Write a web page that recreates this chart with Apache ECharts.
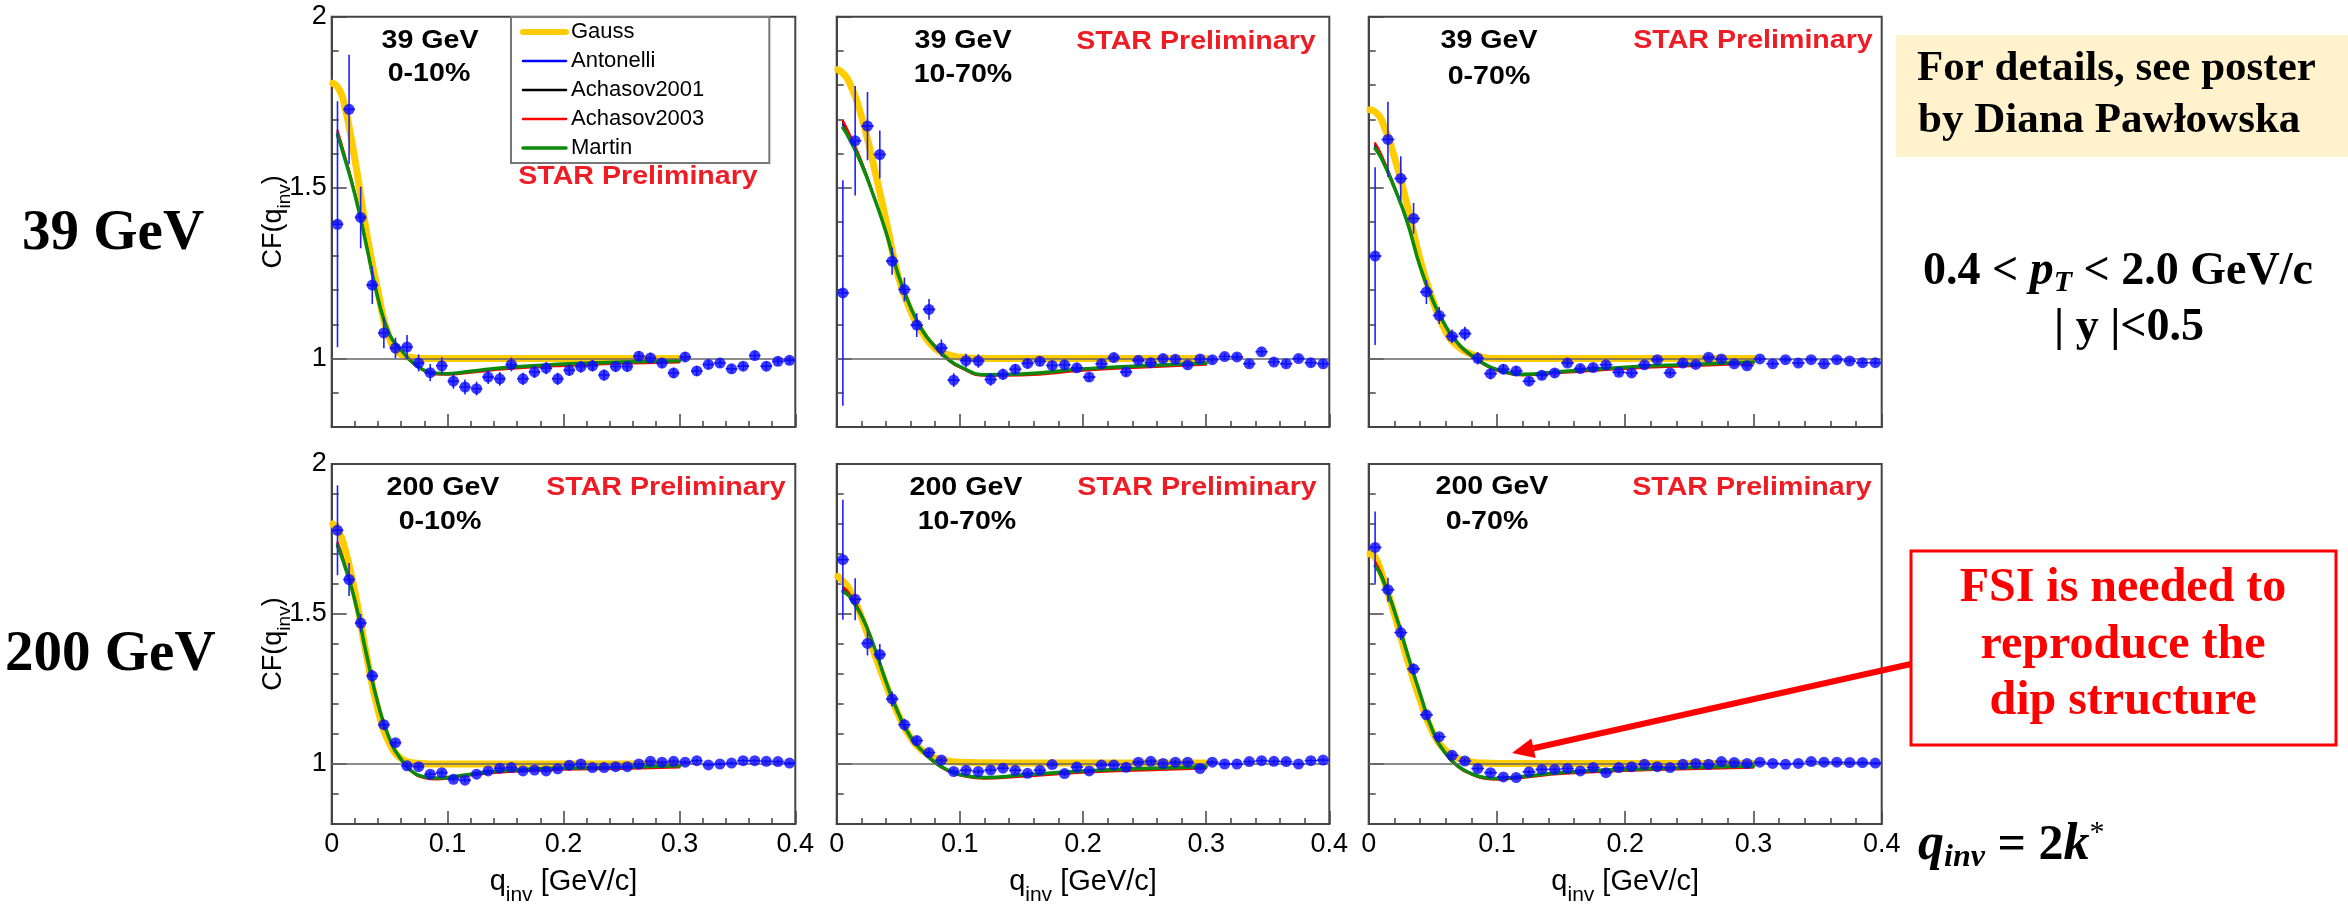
<!DOCTYPE html>
<html><head><meta charset="utf-8">
<script src="https://cdn.jsdelivr.net/npm/echarts@6/dist/echarts.min.js"></script>
<style>html,body{margin:0;padding:0;background:#fff}#c{width:2348px;height:907px}</style>
</head><body><div id="c"></div>
<script>
// ---------------- data ----------------
const qBins = [0.005,0.015,0.025,0.035,0.045,0.055,0.065,0.075,0.085,0.095,0.105,0.115,0.125,0.135,0.145,0.155,0.165,0.175,0.185,0.195,0.205,0.215,0.225,0.235,0.245,0.255,0.265,0.275,0.285,0.295,0.305,0.315,0.325,0.335,0.345,0.355,0.365,0.375,0.385,0.395];
const qFit   = [0.005,0.01,0.02,0.03,0.04,0.05,0.06,0.07,0.08,0.09,0.1,0.12,0.15,0.2,0.25,0.3];
const qGauss = [0.001,0.005,0.01,0.02,0.03,0.04,0.05,0.06,0.07,0.08,0.09,0.1,0.12,0.15,0.2,0.25,0.3];
const yMajorTicks = [1, 1.5, 2];
const seriesNames = ['Gauss','Antonelli','Achasov2001','Achasov2003','Martin'];
const energyLabels = ['39 GeV','200 GeV'];
const centralityLabels = ['0-10%','10-70%','0-70%'];

// 39 GeV, 0-10%
const cf39_0_10  = [1.393,1.729,1.413,1.215,1.075,1.031,1.034,0.987,0.959,0.979,0.934,0.917,0.912,0.946,0.941,0.983,0.941,0.961,0.972,0.941,0.966,0.976,0.979,0.952,0.977,0.977,1.007,1.002,0.987,0.958,1.005,0.964,0.983,0.987,0.970,0.978,1.009,0.978,0.992,0.995];
const err39_0_10 = [0.36,0.16,0.09,0.055,0.045,0.03,0.035,0.025,0.025,0.025,0.022,0.022,0.02,0.02,0.02,0.02,0.018,0.018,0.018,0.018,0.017,0.017,0.017,0.016,0.016,0.016,0.015,0.015,0.015,0.015,0.014,0.014,0.014,0.014,0.013,0.013,0.013,0.013,0.012,0.012];
const gauss39_0_10     = [1.805,1.795,1.757,1.583,1.37,1.195,1.058,1.012,1.003,1.0,1.0,1.0,1.0,1.0,1.0,1.0,1.0];
const antonelli39_0_10 = [1.658,1.603,1.481,1.331,1.175,1.07,1.025,0.988,0.966,0.957,0.956,0.963,0.974,0.984,0.99,0.994];
const achasov01_39_0_10= [1.662,1.606,1.483,1.332,1.176,1.07,1.025,0.987,0.965,0.956,0.955,0.962,0.973,0.983,0.989,0.993];
const achasov03_39_0_10= [1.668,1.61,1.485,1.333,1.176,1.07,1.024,0.986,0.963,0.954,0.953,0.959,0.969,0.979,0.985,0.989];
const martin39_0_10    = [1.654,1.60,1.48,1.33,1.175,1.07,1.025,0.988,0.966,0.957,0.956,0.963,0.974,0.984,0.99,0.994];

// 39 GeV, 10-70%
const cf39_10_70  = [1.192,1.637,1.680,1.597,1.285,1.202,1.098,1.144,1.031,0.937,0.994,0.993,0.939,0.954,0.969,0.986,0.992,0.980,0.982,0.973,0.946,0.985,1.003,0.961,0.995,0.988,1.000,0.998,0.982,0.999,0.997,1.006,1.005,0.985,1.020,0.990,0.985,1.000,0.988,0.985];
const err39_10_70 = [0.33,0.16,0.10,0.07,0.04,0.035,0.035,0.03,0.025,0.02,0.02,0.02,0.018,0.016,0.015,0.015,0.014,0.014,0.013,0.013,0.012,0.012,0.012,0.012,0.011,0.011,0.011,0.011,0.011,0.01,0.01,0.01,0.01,0.01,0.01,0.01,0.01,0.01,0.01,0.01];
const gauss39_10_70     = [1.845,1.835,1.81,1.71,1.565,1.405,1.24,1.14,1.073,1.029,1.012,1.004,1.0,1.0,1.0,1.0,1.0];
const antonelli39_10_70 = [1.685,1.652,1.574,1.476,1.37,1.245,1.15,1.08,1.035,1.0,0.977,0.953,0.955,0.97,0.979,0.987];
const achasov01_39_10_70= [1.692,1.657,1.577,1.477,1.37,1.244,1.149,1.079,1.034,0.999,0.976,0.952,0.954,0.969,0.978,0.986];
const achasov03_39_10_70= [1.696,1.66,1.578,1.478,1.37,1.243,1.148,1.078,1.032,0.997,0.974,0.95,0.951,0.965,0.974,0.982];
const martin39_10_70    = [1.675,1.645,1.57,1.475,1.37,1.245,1.15,1.08,1.035,1.0,0.977,0.953,0.955,0.97,0.979,0.987];

// 39 GeV, 0-70%
const cf39_0_70  = [1.300,1.641,1.527,1.410,1.195,1.126,1.065,1.073,1.001,0.956,0.969,0.964,0.934,0.951,0.958,0.987,0.971,0.974,0.982,0.960,0.958,0.982,0.997,0.958,0.987,0.983,1.004,0.999,0.985,0.979,0.999,0.985,0.997,0.987,0.997,0.985,0.997,0.993,0.988,0.988];
const err39_0_70 = [0.26,0.11,0.065,0.045,0.035,0.025,0.02,0.02,0.018,0.016,0.015,0.014,0.013,0.012,0.012,0.011,0.011,0.01,0.01,0.01,0.01,0.01,0.009,0.009,0.009,0.009,0.009,0.009,0.009,0.009,0.008,0.008,0.008,0.008,0.008,0.008,0.008,0.008,0.008,0.008];
const gauss39_0_70     = [1.728,1.722,1.698,1.59,1.45,1.29,1.17,1.08,1.034,1.013,1.003,1.0,1.0,1.0,1.0,1.0,1.0];
const antonelli39_0_70 = [1.62,1.588,1.501,1.4,1.27,1.17,1.095,1.043,1.01,0.985,0.968,0.954,0.962,0.975,0.983,0.99];
const achasov01_39_0_70= [1.625,1.592,1.503,1.401,1.271,1.17,1.094,1.042,1.009,0.984,0.967,0.953,0.961,0.974,0.982,0.989];
const achasov03_39_0_70= [1.63,1.596,1.505,1.402,1.271,1.169,1.093,1.04,1.007,0.982,0.965,0.951,0.958,0.97,0.978,0.985];
const martin39_0_70    = [1.615,1.585,1.5,1.4,1.27,1.17,1.095,1.043,1.01,0.985,0.968,0.954,0.962,0.975,0.983,0.99];

// 200 GeV, 0-10%
const cf200_0_10  = [1.779,1.615,1.470,1.294,1.131,1.071,0.994,0.991,0.966,0.971,0.949,0.946,0.966,0.977,0.986,0.988,0.977,0.980,0.977,0.984,0.996,1.000,0.988,0.988,0.991,0.991,1.000,1.009,1.006,1.009,1.006,1.011,0.997,1.000,1.003,1.011,1.011,1.009,1.008,1.003];
const err200_0_10 = [0.15,0.055,0.03,0.02,0.015,0.012,0.01,0.01,0.009,0.009,0.008,0.008,0.008,0.008,0.008,0.007,0.007,0.007,0.007,0.007,0.007,0.007,0.007,0.007,0.006,0.006,0.006,0.006,0.006,0.006,0.006,0.006,0.006,0.006,0.006,0.006,0.006,0.006,0.006,0.006];
const gauss200_0_10     = [1.80,1.78,1.738,1.573,1.363,1.18,1.068,1.018,1.004,1.001,1.0,1.0,1.0,1.0,1.0,1.0,1.0];
const antonelli200_0_10 = [1.732,1.678,1.546,1.365,1.2,1.083,1.015,0.974,0.957,0.953,0.955,0.966,0.978,0.986,0.989,0.994];
const achasov01_200_0_10= [1.735,1.68,1.547,1.366,1.2,1.083,1.014,0.973,0.956,0.952,0.954,0.965,0.977,0.985,0.988,0.993];
const achasov03_200_0_10= [1.74,1.683,1.548,1.366,1.2,1.082,1.013,0.971,0.953,0.949,0.951,0.962,0.973,0.981,0.984,0.989];
const martin200_0_10    = [1.727,1.675,1.545,1.365,1.2,1.083,1.015,0.974,0.957,0.953,0.955,0.966,0.978,0.986,0.989,0.994];

// 200 GeV, 10-70%
const cf200_10_70  = [1.681,1.549,1.402,1.365,1.217,1.131,1.078,1.038,1.013,0.975,0.979,0.975,0.980,0.986,0.979,0.969,0.979,0.998,0.968,0.990,0.977,0.997,0.997,0.989,1.006,1.009,1.002,1.006,1.006,0.985,1.006,1.000,1.000,1.008,1.011,1.009,1.008,1.000,1.011,1.013];
const err200_10_70 = [0.2,0.07,0.04,0.035,0.025,0.02,0.015,0.012,0.01,0.01,0.009,0.009,0.009,0.008,0.008,0.008,0.008,0.008,0.008,0.008,0.007,0.007,0.007,0.007,0.007,0.007,0.007,0.007,0.007,0.007,0.007,0.007,0.007,0.007,0.007,0.007,0.007,0.007,0.007,0.007];
const gauss200_10_70     = [1.625,1.61,1.585,1.49,1.375,1.265,1.165,1.088,1.043,1.02,1.01,1.006,1.004,1.003,1.003,1.003,1.003];
const antonelli200_10_70 = [1.58,1.563,1.497,1.395,1.275,1.17,1.09,1.042,1.005,0.98,0.965,0.955,0.963,0.977,0.985,0.991];
const achasov01_200_10_70= [1.585,1.566,1.498,1.396,1.276,1.17,1.09,1.041,1.004,0.979,0.964,0.954,0.962,0.976,0.984,0.99];
const achasov03_200_10_70= [1.59,1.57,1.5,1.397,1.276,1.17,1.089,1.04,1.002,0.977,0.962,0.951,0.958,0.971,0.979,0.985];
const martin200_10_70    = [1.575,1.56,1.495,1.395,1.275,1.17,1.09,1.042,1.005,0.98,0.965,0.955,0.963,0.977,0.985,0.991];

// 200 GeV, 0-70%
const cf200_0_70  = [1.722,1.581,1.438,1.317,1.164,1.091,1.029,1.010,0.985,0.971,0.957,0.955,0.974,0.982,0.982,0.985,0.977,0.988,0.971,0.988,0.991,0.999,0.991,0.988,0.999,1.002,0.999,1.008,1.005,1.002,1.006,1.002,0.999,1.002,1.008,1.006,1.006,1.005,1.005,1.003];
const err200_0_70 = [0.12,0.04,0.025,0.018,0.014,0.011,0.01,0.009,0.008,0.008,0.007,0.007,0.007,0.007,0.007,0.006,0.006,0.006,0.006,0.006,0.006,0.006,0.006,0.006,0.006,0.006,0.006,0.006,0.006,0.006,0.005,0.005,0.005,0.005,0.005,0.005,0.005,0.005,0.005,0.005];
const gauss200_0_70     = [1.70,1.69,1.636,1.50,1.35,1.215,1.105,1.045,1.018,1.007,1.003,1.002,1.002,1.002,1.002,1.002,1.002];
const antonelli200_0_70 = [1.665,1.628,1.511,1.37,1.235,1.11,1.035,0.992,0.968,0.955,0.952,0.958,0.972,0.982,0.988,0.993];
const achasov01_200_0_70= [1.67,1.63,1.512,1.371,1.235,1.11,1.034,0.991,0.967,0.954,0.951,0.957,0.971,0.981,0.987,0.992];
const achasov03_200_0_70= [1.675,1.633,1.513,1.371,1.235,1.109,1.033,0.989,0.965,0.951,0.948,0.954,0.967,0.977,0.983,0.988];
const martin200_0_70    = [1.66,1.625,1.51,1.37,1.235,1.11,1.035,0.992,0.968,0.955,0.952,0.958,0.972,0.982,0.988,0.993];

// ---------------- assembly ----------------
const panels = [
  {cf: cf39_0_10,  err: err39_0_10,  fits: [gauss39_0_10, antonelli39_0_10, achasov01_39_0_10, achasov03_39_0_10, martin39_0_10]},
  {cf: cf39_10_70, err: err39_10_70, fits: [gauss39_10_70, antonelli39_10_70, achasov01_39_10_70, achasov03_39_10_70, martin39_10_70]},
  {cf: cf39_0_70,  err: err39_0_70,  fits: [gauss39_0_70, antonelli39_0_70, achasov01_39_0_70, achasov03_39_0_70, martin39_0_70]},
  {cf: cf200_0_10, err: err200_0_10, fits: [gauss200_0_10, antonelli200_0_10, achasov01_200_0_10, achasov03_200_0_10, martin200_0_10]},
  {cf: cf200_10_70,err: err200_10_70,fits: [gauss200_10_70, antonelli200_10_70, achasov01_200_10_70, achasov03_200_10_70, martin200_10_70]},
  {cf: cf200_0_70, err: err200_0_70, fits: [gauss200_0_70, antonelli200_0_70, achasov01_200_0_70, achasov03_200_0_70, martin200_0_70]}
];

const colLeft = [331.7, 836.7, 1368.7], colWidth = [463.6, 492.6, 513];
const rowTop = [16.7, 464], rowHeight = [410.3, 363];
const SANS = 'Liberation Sans, Arial, sans-serif';
const SERIF = 'Liberation Serif, Times New Roman, serif';
const frameColor = '#444';
const fitStyles = [
  {color:'#ffcc00', width:7, z:2, legendWidth:6},
  {color:'#0000ff', width:2, z:3, legendWidth:2.5},
  {color:'#000000', width:2, z:3, legendWidth:2.5},
  {color:'#ff0000', width:2.2, z:3, legendWidth:2.5},
  {color:'#0b8a0b', width:3.5, z:4, legendWidth:3.5}
];

const grids = [], xAxes = [], yAxes = [], series = [];
const axisRich = {
  m: {fontSize: 29, fontFamily: SANS, color: '#000', lineHeight: 48, verticalAlign: 'middle'},
  s: {fontSize: 21, fontFamily: SANS, color: '#000', lineHeight: 12, verticalAlign: 'bottom'}
};

panels.forEach((p, i) => {
  const r = Math.floor(i / 3), c = i % 3;
  grids.push({left: colLeft[c], top: rowTop[r], width: colWidth[c], height: rowHeight[r],
    show: true, borderColor: frameColor, borderWidth: 2, backgroundColor: 'transparent', containLabel: false});
  xAxes.push({
    gridIndex: i, type: 'value', min: 0, max: 0.4, interval: 0.1,
    axisLine: {show: true, onZero: false, lineStyle: {color: frameColor, width: 2}},
    axisTick: {show: true, inside: true, length: 13, lineStyle: {color: frameColor, width: 1.5}},
    minorTick: {show: true, splitNumber: 5, length: 6, lineStyle: {color: frameColor, width: 1.5}},
    axisLabel: {show: r === 1, fontSize: 27, fontFamily: SANS, color: '#000', margin: 7, showMinLabel: true, showMaxLabel: true},
    splitLine: {show: false}, minorSplitLine: {show: false},
    name: r === 1 ? '{m|q}{s|inv}{m| [GeV/c]}' : '', nameLocation: 'middle', nameGap: 34, nameMoveOverlap: false,
    nameTextStyle: {rich: axisRich}
  });
  yAxes.push({
    gridIndex: i, type: 'value', min: 0.8, max: 2.0, interval: 0.1, position: 'left',
    axisLine: {show: true, onZero: false, lineStyle: {color: frameColor, width: 2}},
    axisTick: {show: true, inside: true, length: 7, lineStyle: {color: frameColor, width: 1.5}},
    axisLabel: {show: false}, splitLine: {show: false}
  });
  yAxes.push({
    gridIndex: i, type: 'value', min: 0.8, max: 2.0, position: 'left', offset: 0,
    axisLine: {show: false},
    axisTick: {show: true, inside: true, length: 15, customValues: yMajorTicks, lineStyle: {color: frameColor, width: 1.5}},
    axisLabel: {show: c === 0, customValues: yMajorTicks, fontSize: 27, fontFamily: SANS, color: '#000', margin: 5},
    splitLine: {show: false},
    name: c === 0 ? '{m|CF(q}{s|inv}{m|)}' : '', nameLocation: 'middle', nameGap: 37, nameRotate: 90, nameMoveOverlap: false,
    nameTextStyle: {rich: {
      m: {fontSize: 27, fontFamily: SANS, color: '#000', lineHeight: 42, verticalAlign: 'middle'},
      s: {fontSize: 19, fontFamily: SANS, color: '#000', lineHeight: 12, verticalAlign: 'bottom'}
    }}
  });
  // reference line at CF = 1
  series.push({type: 'line', xAxisIndex: i, yAxisIndex: 2 * i, data: [], z: 1, silent: true,
    markLine: {silent: true, symbol: ['none', 'none'], label: {show: false}, animation: false,
      lineStyle: {color: '#666', width: 1.5, type: 'solid'}, data: [{yAxis: 1}]}});
  p.fits.forEach((f, k) => {
    const xs = k === 0 ? qGauss : qFit;
    series.push({
      name: seriesNames[k], type: 'line', xAxisIndex: i, yAxisIndex: 2 * i,
      data: xs.map((q, j) => [q, f[j]]), smooth: 0.5, symbol: 'none',
      lineStyle: {color: fitStyles[k].color, width: fitStyles[k].width, cap: 'round', join: 'round'},
      itemStyle: {color: fitStyles[k].color}, z: fitStyles[k].z, silent: true
    });
  });
  series.push({
    type: 'custom', xAxisIndex: i, yAxisIndex: 2 * i, z: 5, silent: true, clip: true,
    data: qBins.map((q, j) => [q, p.cf[j], p.err[j]]),
    renderItem: (params, api) => {
      const q = api.value(0), y = api.value(1), e = api.value(2);
      const a = api.coord([q, y + e]), b = api.coord([q, y - e]);
      const l = api.coord([q - 0.005, y]), rr = api.coord([q + 0.005, y]);
      const st = {stroke: '#2020ff', lineWidth: 1.6};
      return {type: 'group', children: [
        {type: 'line', shape: {x1: a[0], y1: a[1], x2: b[0], y2: b[1]}, style: st},
        {type: 'line', shape: {x1: l[0], y1: l[1], x2: rr[0], y2: rr[1]}, style: st}
      ]};
    }
  });
  series.push({
    type: 'scatter', xAxisIndex: i, yAxisIndex: 2 * i, z: 6, silent: true,
    data: qBins.map((q, j) => [q, p.cf[j]]), symbol: 'circle', symbolSize: 11,
    itemStyle: {color: '#0a0aff'}
  });
});

// ---------------- annotations ----------------
function txt(x, y, text, font, fill, align, extra) {
  return Object.assign({type: 'text', x: x, y: y, z: 50,
    style: {text: text, font: font, fill: fill || '#000', align: align || 'center', verticalAlign: 'middle'}}, extra || {});
}
const panelFont = 'bold 26px ' + SANS;
const starFont = 'bold 26px ' + SANS;
const wide = {scaleX: 1.1};
const titlePos = [
  [[430, 41], [429, 74], [638, 177]],
  [[963, 41], [963, 75], [1196, 42]],
  [[1489, 41], [1489, 77], [1753, 41]],
  [[443, 488], [440, 522], [666, 488]],
  [[966, 488], [967, 522], [1197, 488]],
  [[1492, 487], [1487, 522], [1752, 488]]
];
const graphics = [];
titlePos.forEach((tp, i) => {
  const r = Math.floor(i / 3), c = i % 3;
  graphics.push(txt(tp[0][0], tp[0][1], energyLabels[r], panelFont, '#000', 'center', wide));
  graphics.push(txt(tp[1][0], tp[1][1], centralityLabels[c], panelFont, '#000', 'center', wide));
  graphics.push(txt(tp[2][0], tp[2][1], 'STAR Preliminary', starFont, '#ee1c24', 'center', wide));
});
// row labels
graphics.push(txt(22, 234, energyLabels[0], 'bold 57px ' + SERIF, '#000', 'left'));
graphics.push(txt(5, 655, energyLabels[1], 'bold 57px ' + SERIF, '#000', 'left'));
// poster note
graphics.push({type: 'rect', z: 40, shape: {x: 1896, y: 35, width: 452, height: 122}, style: {fill: '#fff2cc'}});
graphics.push(txt(1917, 69, 'For details, see poster', 'bold 43px ' + SERIF, '#000', 'left'));
graphics.push(txt(1918, 121, 'by Diana Pawłowska', 'bold 43px ' + SERIF, '#000', 'left'));
// kinematic cuts
graphics.push({type: 'text', x: 2118, y: 272, z: 50, style: {
  text: '{n|0.4 < }{i|p}{s|T}{n| < 2.0 GeV/c}', align: 'center', verticalAlign: 'middle',
  rich: {
    n: {font: 'bold 46px ' + SERIF, fill: '#000', lineHeight: 52, verticalAlign: 'middle'},
    i: {font: 'italic bold 48px ' + SERIF, fill: '#000', lineHeight: 52, verticalAlign: 'middle'},
    s: {font: 'italic bold 30px ' + SERIF, fill: '#000', lineHeight: 20, verticalAlign: 'bottom'}
  }}});
graphics.push(txt(2129, 328, '| y |<0.5', 'bold 46px ' + SERIF, '#000', 'center'));
// FSI box
graphics.push({type: 'rect', z: 40, shape: {x: 1911, y: 551, width: 425, height: 194}, style: {fill: '#fff', stroke: '#ff0000', lineWidth: 3}});
graphics.push(txt(2123, 589, 'FSI is needed to', 'bold 48px ' + SERIF, '#ff0000', 'center'));
graphics.push(txt(2123, 646, 'reproduce the', 'bold 48px ' + SERIF, '#ff0000', 'center'));
graphics.push(txt(2123, 702, 'dip structure', 'bold 48px ' + SERIF, '#ff0000', 'center'));
// arrow
graphics.push({type: 'line', z: 45, shape: {x1: 1911, y1: 664, x2: 1533.5, y2: 748.2}, style: {stroke: '#ff0000', lineWidth: 6}});
graphics.push({type: 'polygon', z: 45, shape: {points: [[1512, 753], [1535.7, 758.0], [1531.3, 738.4]]}, style: {fill: '#ff0000'}});
// q_inv = 2k*
graphics.push({type: 'text', x: 1918, y: 846, z: 50, style: {
  text: '{q|q}{s|inv}{n| = 2}{k|k}{p|*}', align: 'left', verticalAlign: 'middle',
  rich: {
    q: {font: 'italic bold 52px ' + SERIF, fill: '#000', lineHeight: 56, verticalAlign: 'middle'},
    s: {font: 'italic bold 32px ' + SERIF, fill: '#000', lineHeight: 22, verticalAlign: 'bottom'},
    n: {font: 'bold 50px ' + SERIF, fill: '#000', lineHeight: 56, verticalAlign: 'middle'},
    k: {font: 'italic bold 52px ' + SERIF, fill: '#000', lineHeight: 56, verticalAlign: 'middle'},
    p: {font: '30px ' + SERIF, fill: '#000', lineHeight: 20, verticalAlign: 'top'}
  }}});

const chart = echarts.init(document.getElementById('c'), null, {renderer: 'canvas'});
chart.setOption({
  animation: false,
  backgroundColor: '#fff',
  grid: grids, xAxis: xAxes, yAxis: yAxes, series: series,
  legend: {
    data: seriesNames.map((n, k) => ({name: n, lineStyle: {width: fitStyles[k].legendWidth, color: fitStyles[k].color}})),
    orient: 'vertical', left: 511, top: 17, padding: [4, 65, 4, 9],
    itemWidth: 43, itemHeight: 20, itemGap: 7, selectedMode: false,
    itemStyle: {opacity: 0},
    backgroundColor: '#fff', borderColor: '#777', borderWidth: 2,
    textStyle: {fontSize: 22, fontFamily: SANS, color: '#000'}
  },
  graphic: graphics
});
</script>
</body></html>
